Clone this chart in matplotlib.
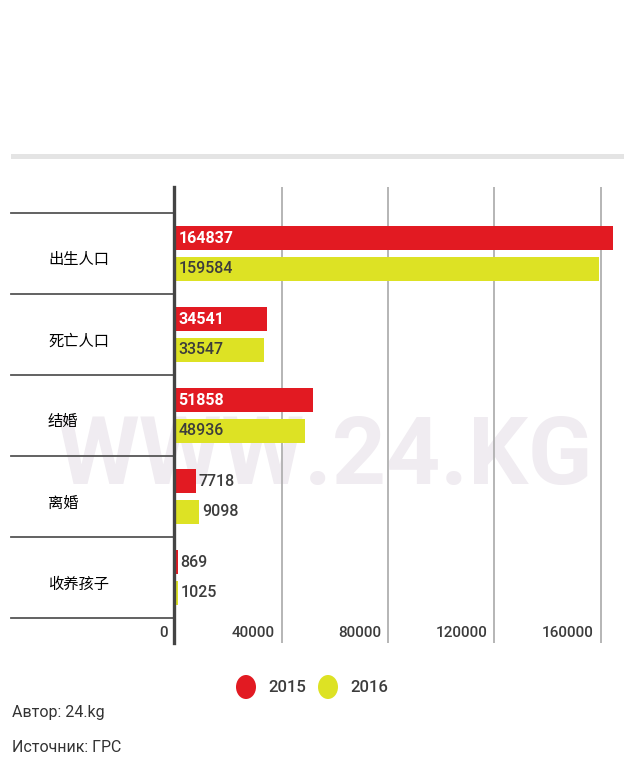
import matplotlib
matplotlib.use("Agg")
import matplotlib.pyplot as plt
from matplotlib.patches import Rectangle, Circle
import matplotlib.transforms as mtransforms

plt.rcParams['font.family'] = ['Roboto', 'Noto Sans CJK SC', 'DejaVu Sans']

categories = ["出生人口", "死亡人口", "结婚", "离婚", "收养孩子"]
values_2015 = [164837, 34541, 51858, 7718, 869]
values_2016 = [159584, 33547, 48936, 9098, 1025]
series_names = ["2015", "2016"]
xticks = [0, 40000, 80000, 120000, 160000]
xtick_labels = ["0", "40000", "80000", "120000", "160000"]

RED = "#e21a22"
YEL = "#dde224"
TXT = "#3c3c3c"

W, H = 636, 764
fig = plt.figure(figsize=(W / 100, H / 100), dpi=100)

def fx(px):
    return px / W

def fy(py):
    return 1 - py / H

# top band
fig.patches.append(Rectangle((fx(11), fy(159)), fx(624) - fx(11), fy(154) - fy(159),
                             transform=fig.transFigure, facecolor="#e4e4e4", edgecolor="none"))

ax_l, ax_r, ax_t, ax_b = 175.3, 622, 187, 643
ax = fig.add_axes([fx(ax_l), fy(ax_b), fx(ax_r) - fx(ax_l), fy(ax_t) - fy(ax_b)])
px_per_unit = 106.3 / 40000
xmax = (ax_r - ax_l) / px_per_unit
ax.set_xlim(0, xmax)
band = 81.0
top_band = 213.0
ymin = -0.5 - (top_band - ax_t) / band
ymax = 4.5 + (ax_b - (top_band + 5 * band)) / band
ax.set_ylim(ymax, ymin)
for s in ax.spines.values():
    s.set_visible(False)
ax.set_xticks([])
ax.set_yticks([])
ax.patch.set_alpha(0)

# watermark (behind everything)
ax.text(fx(325), fy(458), "WWW.24.KG", transform=fig.transFigure, fontsize=68,
        fontweight="bold", color="#f0ecf1", ha="center", va="center", zorder=0,
        clip_on=False)

# gridlines
for t in xticks[1:]:
    ax.axvline(t, color="#b0b0b0", lw=1.3, zorder=1)
axis_tr = mtransforms.offset_copy(ax.transData, fig=fig, x=-1.2, y=0, units="dots")
ax.plot([0, 0], [ymin, ymax], transform=axis_tr, color="#444444", lw=2.4, zorder=5,
        clip_on=False)

# tick labels inside plot bottom
trans_tick = mtransforms.offset_copy(ax.transData, fig=fig, x=-7, y=0, units="dots")
y_tick = 4.5 + (633 - (top_band + 5 * band)) / band
for t, lab in zip(xticks, xtick_labels):
    ax.text(t, y_tick, lab, transform=trans_tick, fontsize=11, color=TXT,
            ha="right", va="center", fontweight="medium")

# bars
h = 0.30
off = 0.19
y_pos = list(range(len(categories)))
ax.barh([y - off for y in y_pos], values_2015, height=h, color=RED, zorder=3)
ax.barh([y + off for y in y_pos], values_2016, height=h, color=YEL, zorder=3)

inside_thr = 20000
tr_in = mtransforms.offset_copy(ax.transData, fig=fig, x=3, y=0, units="dots")
tr_out = mtransforms.offset_copy(ax.transData, fig=fig, x=3, y=0, units="dots")
for y, v in zip(y_pos, values_2015):
    if v > inside_thr:
        ax.text(0, y - off, str(v), transform=tr_in, color="white", fontweight="bold",
                fontsize=11.5, ha="left", va="center", zorder=6)
    else:
        ax.text(v, y - off, str(v), transform=tr_out, color=TXT, fontweight="medium",
                fontsize=11.5, ha="left", va="center", zorder=6)
for y, v in zip(y_pos, values_2016):
    if v > inside_thr:
        ax.text(0, y + off, str(v), transform=tr_in, color=TXT, fontweight="medium",
                fontsize=11.5, ha="left", va="center", zorder=6)
    else:
        ax.text(v, y + off, str(v), transform=tr_out, color=TXT, fontweight="medium",
                fontsize=11.5, ha="left", va="center", zorder=6)

# category separators and labels
bt = mtransforms.blended_transform_factory(ax.transAxes, ax.transData)
x_left = (11 - ax_l) / (ax_r - ax_l)
for k in range(len(categories) + 1):
    ax.plot([x_left, 0], [k - 0.5, k - 0.5], transform=bt, color="#555555", lw=1.3,
            clip_on=False, zorder=4)
x_lab = (48 - ax_l) / (ax_r - ax_l)
for y, c in zip(y_pos, categories):
    ax.text(x_lab, y + 0.08, c, transform=bt, ha="left", va="center", fontsize=11,
            color="black", family=["Noto Sans CJK SC", "DejaVu Sans"], clip_on=False)

# legend
leg_y = 687
for cx, col, tx, name in [(246, RED, 268, series_names[0]), (328, YEL, 350, series_names[1])]:
    fig.patches.append(Circle((fx(cx), fy(leg_y)), 10 / W, transform=fig.transFigure,
                              facecolor=col, edgecolor="none"))
    fig.text(fx(tx), fy(leg_y), name, fontsize=12, color=TXT, ha="left", va="center",
             fontweight="medium")

# footer
fig.text(fx(12), fy(712), "Автор: 24.kg", fontsize=11.5, color="#333333", ha="left", va="center")
fig.text(fx(12), fy(748), "Источник: ГРС", fontsize=11.5, color="#333333", ha="left", va="center")

fig.savefig("out.png", dpi=100)
